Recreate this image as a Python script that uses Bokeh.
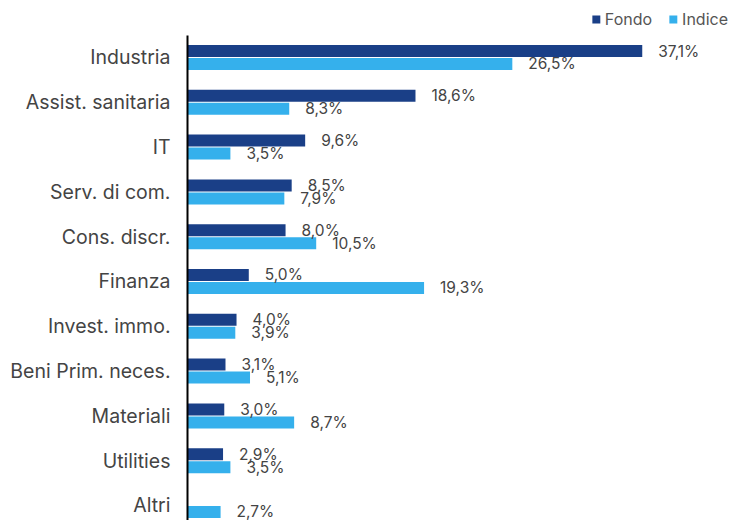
from bokeh.plotting import figure
from bokeh.layouts import column
from bokeh.models import ColumnDataSource, Range1d, FixedTicker, Legend, LegendItem
from bokeh.core.properties import value
from bokeh.embed import file_html
from bokeh.resources import INLINE
import math

categories = ["Industria", "Assist. sanitaria", "IT", "Serv. di com.", "Cons. discr.",
              "Finanza", "Invest. immo.", "Beni Prim. neces.", "Materiali", "Utilities", "Altri"]
fondo = [37.1, 18.6, 9.6, 8.5, 8.0, 5.0, 4.0, 3.1, 3.0, 2.9, float("nan")]
indice = [26.5, 8.3, 3.5, 7.9, 10.5, 19.3, 3.9, 5.1, 8.7, 3.5, 2.7]
series_names = ["Fondo", "Indice"]

C_FONDO = "#1a3f87"
C_INDICE = "#35b0ec"
FONT = "Inter"
W = 730

def fmt(v):
    return "" if (v is None or (isinstance(v, float) and math.isnan(v))) else f"{v:.1f}".replace(".", ",") + "%"

idx = list(range(len(categories)))
off = 0.145
bh = 0.268

src_f = ColumnDataSource(dict(y=[i - off for i in idx], v=fondo, lab=[fmt(v) for v in fondo]))
src_i = ColumnDataSource(dict(y=[i + off for i in idx], v=indice, lab=[fmt(v) for v in indice]))

# ---- legend strip ----
lg = figure(width=W, height=35, output_backend="svg", toolbar_location=None,
            x_range=Range1d(0, 1), y_range=Range1d(0, 1),
            min_border_left=0, min_border_right=0, min_border_top=7, min_border_bottom=0)
lg.outline_line_color = None
lg.axis.visible = False
lg.grid.visible = False
# zero-width proxy bars: only used to give the legend its swatches
lf = lg.hbar(y=[0], right=[0], left=[0], height=1, color=C_FONDO, line_color=None)
li = lg.hbar(y=[0], right=[0], left=[0], height=1, color=C_INDICE, line_color=None)
legend = Legend(items=[LegendItem(label=series_names[0], renderers=[lf]),
                       LegendItem(label=series_names[1], renderers=[li])],
                orientation="horizontal", location="top_right",
                glyph_width=10, glyph_height=10, label_standoff=4, spacing=16,
                padding=0, margin=2, border_line_color=None, background_fill_alpha=0,
                label_text_font=FONT, label_text_font_size="16px", label_text_color="#555555",
                label_height=18)
lg.add_layout(legend)

# ---- main chart ----
p = figure(width=W, height=485, output_backend="svg", toolbar_location=None,
           x_range=Range1d(0, 44.3), y_range=Range1d(10.335, -0.491),
           min_border_left=187, min_border_right=0, min_border_top=0, min_border_bottom=0)
p.outline_line_color = None
p.xgrid.visible = False
p.ygrid.visible = False
p.xaxis.visible = False

p.hbar(y="y", right="v", left=0, height=bh, source=src_f, color=C_FONDO, line_color=None)
p.hbar(y="y", right="v", left=0, height=bh, source=src_i, color=C_INDICE, line_color=None)

for s in (src_f, src_i):
    p.text(x="v", y="y", text="lab", source=s, x_offset=16, text_baseline="middle",
           text_align="left", text_font=value(FONT), text_font_size="15.5px", text_color="#444444")

ya = p.yaxis[0]
ya.ticker = FixedTicker(ticks=idx)
ya.major_label_overrides = {i: c for i, c in zip(idx, categories)}
ya.major_tick_line_color = None
ya.minor_tick_line_color = None
ya.major_tick_out = 0
ya.major_tick_in = 0
ya.axis_line_color = "black"
ya.axis_line_width = 2
ya.major_label_standoff = 17
ya.major_label_text_font = FONT
ya.major_label_text_font_size = "19.5px"
ya.major_label_text_color = "#444444"

layout = column(lg, p, spacing=0)
open("out.html", "w").write(file_html(layout, INLINE))
